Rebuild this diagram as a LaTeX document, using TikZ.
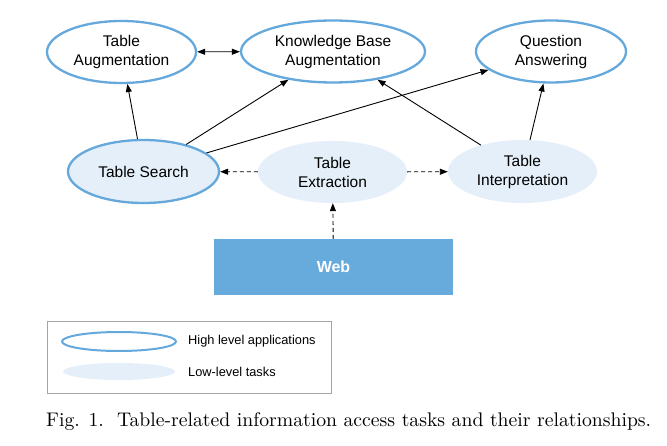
\documentclass[tikz,border=0pt]{standalone}
\usepackage{fontspec}
\setsansfont{Liberation Sans}
\usetikzlibrary{shapes.geometric,arrows.meta}
\definecolor{hiblue}{RGB}{100,168,220}
\definecolor{lofill}{RGB}{228,239,249}
\definecolor{webblue}{RGB}{103,171,221}
\definecolor{leggray}{RGB}{165,165,165}
\tikzset{
  base/.style={ellipse, inner sep=0pt, align=center, font=\sffamily\fontsize{15.5}{19}\selectfont},
  hi/.style={base, draw=hiblue, line width=2.3pt},
  lo/.style={base, fill=lofill},
  conn/.style={line width=0.9pt, -{Triangle[length=8pt,width=6pt]}},
  dconn/.style={conn, dash pattern=on 4pt off 3pt},
}
\begin{document}
\begin{tikzpicture}[x=1pt,y=-1pt]
\useasboundingbox (0,0) rectangle (667,446);
% top level
\node[hi, minimum width=149pt, minimum height=62pt] (ta) at (121.5,52) {Table\\Augmentation};
\node[hi, minimum width=184pt, minimum height=62pt] (kb) at (333,51.5) {Knowledge Base\\Augmentation};
\node[hi, minimum width=150pt, minimum height=62pt] (qa) at (551,51.5) {Question\\Answering};
% middle
\node[hi, fill=lofill, minimum width=151pt, minimum height=63pt] (ts) at (143.5,171.5) {Table Search};
\node[lo, minimum width=149pt, minimum height=62pt] (te) at (332.5,172) {Table\\Extraction};
\node[lo, minimum width=149pt, minimum height=63pt] (ti) at (522.5,171.5) {Table\\Interpretation};
% web
\node[rectangle, fill=webblue, minimum width=239pt, minimum height=56pt, inner sep=0pt,
      text=white, font=\sffamily\bfseries\fontsize{16}{19}\selectfont] (web) at (333.5,267) {Web};
% connectors
\draw[conn, {Triangle[length=8pt,width=6pt]}-{Triangle[length=8pt,width=6pt]}] (ta) -- (kb);
\draw[conn] (ts) -- (ta);
\draw[conn] (ts) -- (kb);
\draw[conn] (ts) -- (qa);
\draw[conn] (ti) -- (kb);
\draw[conn] (ti) -- (qa);
\draw[dconn] (te) -- (ts);
\draw[dconn] (te) -- (ti);
\draw[dconn] (web) -- (te);
% legend
\node[rectangle, draw=leggray, line width=0.8pt, minimum width=284pt, minimum height=72pt, inner sep=0pt] (legbox) at (189,357) {};
\node[ellipse, draw=hiblue, line width=2pt, minimum width=114pt, minimum height=19pt, inner sep=0pt] (leghi) at (119,341.5) {};
\node[ellipse, fill=lofill, minimum width=112pt, minimum height=17pt, inner sep=0pt] (leglo) at (119,371.5) {};
\node[anchor=west, inner sep=0pt, font=\sffamily\fontsize{12.8}{15}\selectfont] (leghitext) at (188,341.5) {High level applications};
\node[anchor=west, inner sep=0pt, font=\sffamily\fontsize{12.8}{15}\selectfont] (leglotext) at (188,371.5) {Low-level tasks};
% caption
\node[anchor=base west, inner sep=0pt] (cap) at (46,426) {\resizebox{605pt}{!}{\rmfamily Fig. 1.\ \ Table-related information access tasks and their relationships.}};
\end{tikzpicture}
\end{document}
